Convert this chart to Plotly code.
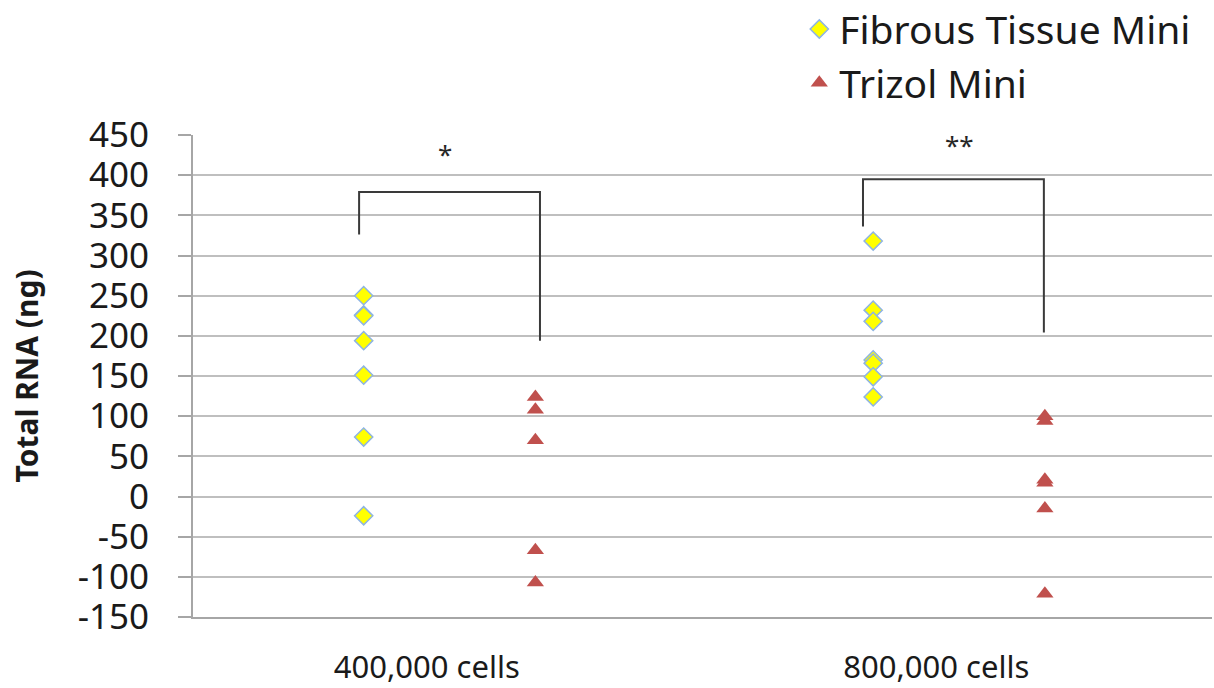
import plotly.graph_objects as go

# ---- data ----
categories = ["400,000 cells", "800,000 cells"]
fibrous_400k = [250, 226, 225, 194, 151, 74, -24]
fibrous_800k = [318, 232, 218, 170, 166, 149, 124]
trizol_400k = [124, 108, 70, -67, -107]
trizol_800k = [100, 94, 21, 17, -15, -121]
y_ticks = [-150, -100, -50, 0, 50, 100, 150, 200, 250, 300, 350, 400, 450]
y_tick_labels = ["-150", "-100", "-50", "0", "50", "100", "150", "200",
                 "250", "300", "350", "400", "450"]
significance = ["*", "**"]

# ---- styling ----
cat_pos = [1, 2]
fib_off = -0.165
tri_off = 0.172
FONT = "Noto Sans"

fig = go.Figure()

fig.add_trace(go.Scatter(
    x=[cat_pos[0] + fib_off] * len(fibrous_400k) + [cat_pos[1] + fib_off] * len(fibrous_800k),
    y=fibrous_400k + fibrous_800k,
    mode="markers", name="Fibrous Tissue Mini", legendgroup="a",
    marker=dict(symbol="diamond", size=14, color="#FFFF00",
                line=dict(color="#8EB4E3", width=1.5)),
))
fig.add_trace(go.Scatter(
    x=[cat_pos[0] + tri_off] * len(trizol_400k) + [cat_pos[1] + tri_off] * len(trizol_800k),
    y=trizol_400k + trizol_800k,
    mode="markers", name="Trizol Mini", legendgroup="b",
    marker=dict(symbol="triangle-up", size=15, color="#C0504D", line=dict(width=0)),
))

# significance brackets (x in category units, y in data units)
brackets = [
    dict(x0=0.826, x1=1.181, top=379, lb=326, rb=194, sx=0.994, sy=426),
    dict(x0=1.815, x1=2.170, top=395, lb=336, rb=204, sx=2.004, sy=437),
]
for b, s in zip(brackets, significance):
    fig.add_shape(type="path",
                  path=f"M {b['x0']},{b['lb']} L {b['x0']},{b['top']} L {b['x1']},{b['top']} L {b['x1']},{b['rb']}",
                  line=dict(color="#3a3a3a", width=2), xref="x", yref="y")
    fig.add_annotation(x=b["sx"], y=b["sy"], text=s, showarrow=False,
                       font=dict(family=FONT, size=26, color="#262626"))

fig.update_layout(
    width=1214, height=688,
    margin=dict(l=193, r=2, t=135, b=71, autoexpand=False),
    paper_bgcolor="white", plot_bgcolor="white",
    font=dict(family=FONT, color="#1a1a1a"),
    showlegend=True,
    legend=dict(x=0.595, y=1.286, xanchor="left", yanchor="top",
                font=dict(family=FONT, size=39, color="#1a1a1a"),
                tracegroupgap=0, traceorder="grouped",
                bgcolor="rgba(0,0,0,0)"),
    xaxis=dict(range=[0.5, 2.5], tickvals=cat_pos, ticktext=categories,
               showgrid=False, zeroline=False, ticks="",
               showline=True, linecolor="#A6A6A6", linewidth=2,
               tickfont=dict(family=FONT, size=31, color="#1a1a1a"),
               ticklabelshift=-21, ticklabelstandoff=22),
    yaxis=dict(range=[-150, 450], tickvals=y_ticks, ticktext=y_tick_labels,
               showgrid=True, gridcolor="#BFBFBF", gridwidth=2,
               zeroline=False,
               showline=True, linecolor="#A6A6A6", linewidth=2,
               ticks="outside", ticklen=13, tickcolor="#A6A6A6", tickwidth=2,
               tickfont=dict(family=FONT, size=35, color="#1a1a1a"),
               ticklabelstandoff=22,
               title=dict(text="<b>Total RNA (ng)</b>", standoff=30,
                          font=dict(family=FONT, size=30, color="#1a1a1a"))),
)

fig.write_html("out.html")
